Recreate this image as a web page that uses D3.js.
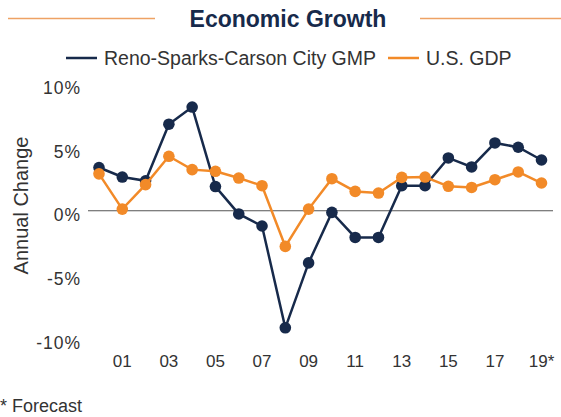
<!DOCTYPE html>
<html>
<head>
<meta charset="utf-8">
<script src="https://cdn.jsdelivr.net/npm/d3@7"></script>
<style>
  body { margin: 0; background: #fff; }
  text { font-family: "Liberation Sans", Arial, sans-serif; fill: #333; }
</style>
</head>
<body>
<script>
var w = 561,
    h = 417;

// Data
var years = [2000, 2001, 2002, 2003, 2004, 2005, 2006, 2007, 2008, 2009,
             2010, 2011, 2012, 2013, 2014, 2015, 2016, 2017, 2018, 2019];
var renoGMP = [3.4, 2.65, 2.35, 6.8, 8.15, 1.9, -0.25, -1.2, -9.2, -4.1,
               -0.13, -2.1, -2.1, 1.97, 1.97, 4.15, 3.44, 5.33, 4.99, 3.99];
var usGDP = [2.9, 0.13, 2.05, 4.28, 3.23, 3.1, 2.57, 1.97, -2.8, 0.13,
             2.52, 1.52, 1.39, 2.62, 2.65, 1.92, 1.83, 2.44, 3.05, 2.18];
var yTicks = [-10, -5, 0, 5, 10];
var xTickYears = [2001, 2003, 2005, 2007, 2009, 2011, 2013, 2015, 2017, 2019];
var xTickLabels = ['01', '03', '05', '07', '09', '11', '13', '15', '17', '19*'];

var navy = '#172a4b',
    orange = '#f28a28';

var svg = d3.select('body')
            .append('svg')
            .attr('width', w)
            .attr('height', h);

var x = d3.scaleLinear()
          .domain([2000, 2019])
          .range([99, 541.5]);

var y = d3.scaleLinear()
          .domain([-10, 10])
          .range([338, 83.5]);

// Title with rules on both sides
svg.append('line')
   .attr('x1', 8).attr('x2', 155)
   .attr('y1', 18.5).attr('y2', 18.5)
   .style('stroke', '#eea264')
   .style('stroke-width', 1.5);

svg.append('line')
   .attr('x1', 420).attr('x2', 561)
   .attr('y1', 18.5).attr('y2', 18.5)
   .style('stroke', '#eea264')
   .style('stroke-width', 1.5);

svg.append('text')
   .attr('x', 288)
   .attr('y', 26.5)
   .attr('text-anchor', 'middle')
   .style('font-size', '23px')
   .style('font-weight', 'bold')
   .style('fill', navy)
   .text('Economic Growth');

// Legend
var legend = [
  { name: 'Reno-Sparks-Carson City GMP', color: navy, x: 66 },
  { name: 'U.S. GDP', color: orange, x: 388 }
];

var lg = svg.selectAll('g.legend')
            .data(legend)
            .enter()
            .append('g')
            .attr('class', 'legend')
            .attr('transform', function(d) { return 'translate(' + d.x + ',58)'; });

lg.append('line')
  .attr('x1', 0).attr('x2', 31)
  .attr('y1', 0).attr('y2', 0)
  .style('stroke', function(d) { return d.color; })
  .style('stroke-width', 2.5);

lg.append('text')
  .attr('x', 38)
  .attr('y', 7)
  .style('font-size', '19.5px')
  .text(function(d) { return d.name; });

// Y axis labels
svg.selectAll('text.ytick')
   .data(yTicks)
   .enter()
   .append('text')
   .attr('class', 'ytick')
   .attr('x', 81)
   .attr('y', function(d) { return y(d) + 10.5; })
   .attr('text-anchor', 'end')
   .style('font-size', '17.5px')
   .style('letter-spacing', '1px')
   .text(function(d) { return d + '%'; });

svg.append('text')
   .attr('transform', 'translate(28,205.5) rotate(-90)')
   .attr('text-anchor', 'middle')
   .style('font-size', '20px')
   .text('Annual Change');

// X axis labels
svg.selectAll('text.xtick')
   .data(xTickYears)
   .enter()
   .append('text')
   .attr('class', 'xtick')
   .attr('x', function(d) { return x(d); })
   .attr('y', 367)
   .attr('text-anchor', 'middle')
   .style('font-size', '17px')
   .text(function(d, i) { return xTickLabels[i]; });

// Zero line
svg.append('line')
   .attr('x1', 88).attr('x2', 553)
   .attr('y1', y(0)).attr('y2', y(0))
   .style('stroke', '#555')
   .style('stroke-width', 1);

// Series
var series = [
  { values: renoGMP, color: navy },
  { values: usGDP, color: orange }
];

var line = d3.line()
             .x(function(d, i) { return x(years[i]); })
             .y(function(d) { return y(d); });

series.forEach(function(s) {
  svg.append('path')
     .datum(s.values)
     .attr('d', line)
     .style('fill', 'none')
     .style('stroke', s.color)
     .style('stroke-width', 2.5);

  svg.selectAll(null)
     .data(s.values)
     .enter()
     .append('circle')
     .attr('cx', function(d, i) { return x(years[i]); })
     .attr('cy', function(d) { return y(d); })
     .attr('r', 5.8)
     .style('fill', s.color);
});

// Footnote
svg.append('text')
   .attr('x', 0)
   .attr('y', 412)
   .style('font-size', '18px')
   .text('* Forecast');
</script>
</body>
</html>
